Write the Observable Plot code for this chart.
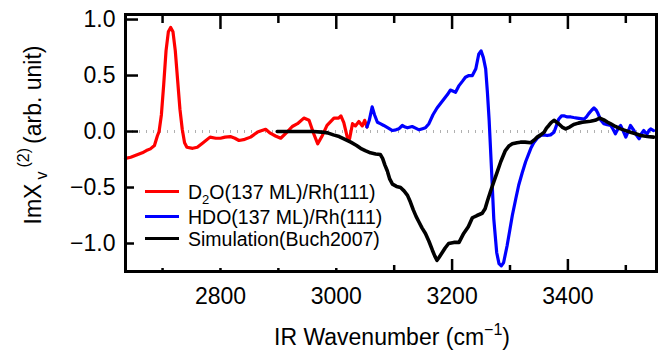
<!DOCTYPE html>
<html><head><meta charset="utf-8">
<script src="https://cdn.jsdelivr.net/npm/d3@7"></script>
<script src="https://cdn.jsdelivr.net/npm/@observablehq/plot@0.6"></script>
<style>
body{margin:0;background:#fff;}
#wrap{position:relative;width:658px;height:353px;font-family:"Liberation Sans",Arial,sans-serif;}
#overlay{position:absolute;left:0;top:0;pointer-events:none;}
</style></head><body><div id="wrap"></div>
<script>
// D2O(137 ML)/Rh(111) spectrum [wavenumber, ImChi]
const d2oSpectrum = [[2636,-0.24],[2645,-0.23],[2655,-0.21],[2665,-0.19],[2672,-0.17],[2679,-0.155],[2686,-0.125],[2691,-0.04],[2694,0.0],[2698,0.15],[2702,0.42],[2706,0.72],[2710,0.89],[2714,0.93],[2718,0.89],[2722,0.72],[2726,0.46],[2730,0.2],[2734,0.02],[2738,-0.1],[2742,-0.14],[2752,-0.15],[2760,-0.14],[2770,-0.1],[2782,-0.05],[2792,-0.06],[2800,-0.06],[2808,-0.05],[2817,-0.045],[2825,-0.06],[2832,-0.08],[2842,-0.07],[2852,-0.05],[2864,-0.005],[2878,0.02],[2886,-0.015],[2895,-0.04],[2904,-0.06],[2915,-0.005],[2924,0.045],[2933,0.07],[2944,0.12],[2953,0.1],[2961,-0.02],[2968,-0.11],[2976,-0.035],[2984,0.055],[2996,0.12],[3004,0.12],[3008,0.14],[3013,0.08],[3019,-0.05],[3023,-0.065],[3028,0.07],[3033,0.05],[3039,0.09],[3045,0.05],[3049,0.1],[3053,0.04]];
// HDO(137 ML)/Rh(111) spectrum
const hdoSpectrum = [[3053,0.04],[3057,0.1],[3062,0.22],[3066,0.15],[3071,0.083],[3076,0.07],[3082,0.054],[3090,0.03],[3097,0.009],[3103,0.015],[3108,0.024],[3114,0.054],[3119,0.04],[3123,0.033],[3131,0.045],[3137,0.03],[3143,0.015],[3149,0.025],[3154,0.033],[3160,0.07],[3167,0.15],[3174,0.21],[3180,0.25],[3186,0.29],[3192,0.33],[3197,0.37],[3206,0.35],[3212,0.41],[3218,0.45],[3223,0.485],[3229,0.5],[3235,0.5],[3241,0.56],[3246,0.69],[3250,0.72],[3254,0.66],[3258,0.56],[3261,0.35],[3264,0.1],[3268,-0.33],[3272,-0.78],[3277,-1.08],[3281,-1.18],[3285,-1.2],[3289,-1.17],[3295,-1.02],[3300,-0.87],[3304,-0.75],[3310,-0.6],[3315,-0.48],[3321,-0.37],[3327,-0.27],[3336,-0.15],[3341,-0.1],[3347,-0.06],[3353,-0.036],[3359,-0.03],[3364,-0.036],[3370,-0.03],[3376,-0.006],[3380,0.05],[3384,0.11],[3389,0.14],[3393,0.14],[3399,0.13],[3405,0.13],[3410,0.125],[3416,0.12],[3422,0.115],[3428,0.11],[3432,0.13],[3436,0.16],[3441,0.19],[3445,0.21],[3449,0.19],[3452,0.16],[3457,0.1],[3462,0.07],[3468,0.06],[3474,0.054],[3478,0.02],[3482,-0.02],[3487,0.03],[3491,0.054],[3496,0.0],[3500,-0.05],[3504,0.0],[3508,0.054],[3514,0.009],[3518,-0.03],[3523,-0.065],[3527,-0.02],[3531,0.009],[3534,-0.01],[3537,-0.02],[3540,0.01],[3543,0.024],[3548,0.009]];
// Simulation (Buch 2007)
const simSpectrum = [[2898,0.0],[2920,0.0],[2940,0.0],[2960,0.0],[2975,-0.005],[2985,-0.012],[2995,-0.03],[3005,-0.045],[3015,-0.07],[3025,-0.095],[3035,-0.125],[3042,-0.15],[3050,-0.17],[3059,-0.19],[3068,-0.2],[3076,-0.205],[3080,-0.24],[3084,-0.3],[3088,-0.35],[3092,-0.42],[3097,-0.47],[3104,-0.49],[3111,-0.5],[3117,-0.53],[3123,-0.57],[3128,-0.63],[3133,-0.7],[3138,-0.76],[3143,-0.81],[3148,-0.86],[3154,-0.91],[3160,-0.98],[3166,-1.06],[3170,-1.11],[3174,-1.15],[3178,-1.12],[3183,-1.08],[3188,-1.04],[3194,-1.0],[3203,-0.99],[3212,-0.99],[3220,-0.91],[3228,-0.85],[3235,-0.77],[3243,-0.75],[3252,-0.73],[3257,-0.69],[3261,-0.62],[3266,-0.54],[3272,-0.45],[3278,-0.36],[3284,-0.27],[3292,-0.17],[3298,-0.13],[3304,-0.11],[3312,-0.1],[3318,-0.095],[3326,-0.095],[3336,-0.1],[3342,-0.075],[3347,-0.05],[3353,-0.03],[3359,-0.006],[3363,0.03],[3367,0.054],[3371,0.08],[3376,0.1],[3380,0.085],[3384,0.07],[3390,0.04],[3396,0.024],[3403,0.04],[3410,0.063],[3418,0.075],[3425,0.083],[3432,0.088],[3439,0.092],[3447,0.1],[3455,0.12],[3462,0.104],[3468,0.085],[3474,0.069],[3482,0.045],[3491,0.024],[3500,0.008],[3508,-0.006],[3517,-0.02],[3526,-0.036],[3537,-0.045],[3548,-0.05]];

const xMajorTicks = [2800, 3000, 3200, 3400];
const xMinorTicks = [2700, 2900, 3100, 3300, 3500];
const yTicks = [-1.0, -0.5, 0.0, 0.5, 1.0];
const legendLabels = ["D2O(137 ML)/Rh(111)", "HDO(137 ML)/Rh(111)", "Simulation(Buch2007)"];
const seriesColors = ["#ff0000", "#0000ff", "#000000"];

const FONT = '"Liberation Sans", Arial, sans-serif';
const px = d => d[0], py = d => d[1];

const chart = Plot.plot({
  width: 658, height: 353,
  marginLeft: 125, marginRight: 2, marginTop: 14, marginBottom: 82,
  x: {domain: [2636, 3553]},
  y: {domain: [-1.25, 1.045]},
  style: {fontFamily: FONT, fontSize: "23px", color: "#000", background: "#fff", overflow: "visible"},
  marks: [
    Plot.ruleY([0], {stroke: "#b0b0b0", strokeWidth: 3, strokeDasharray: "1,6"}),
    Plot.line(d2oSpectrum, {x: px, y: py, stroke: seriesColors[0], strokeWidth: 3.2}),
    Plot.line(hdoSpectrum, {x: px, y: py, stroke: seriesColors[1], strokeWidth: 3.2}),
    Plot.line(simSpectrum, {x: px, y: py, stroke: seriesColors[2], strokeWidth: 3.6}),
    Plot.axisX({anchor: "top", ticks: xMajorTicks, tickSize: -14, fill: "none", label: null, strokeWidth: 2.5}),
    Plot.axisX({anchor: "top", ticks: xMinorTicks, tickSize: -8, fill: "none", label: null, strokeWidth: 2.5}),
    Plot.axisX({anchor: "bottom", ticks: xMajorTicks, tickSize: -12, fill: "none", label: null, strokeWidth: 2.5}),
    Plot.axisX({anchor: "bottom", ticks: xMinorTicks, tickSize: -6, fill: "none", label: null, strokeWidth: 2.5}),
    Plot.axisX({anchor: "bottom", ticks: xMajorTicks, tickSize: 0, tickPadding: 16, label: null, fontSize: 23, tickFormat: d => String(d)}),
    Plot.axisY({anchor: "left", ticks: yTicks, tickSize: -13, fill: "none", label: null, strokeWidth: 2.5}),
    Plot.axisY({anchor: "left", ticks: yTicks, tickSize: 0, tickPadding: 10, label: null, fontSize: 23, tickFormat: d => d.toFixed(1).replace("-", "\u2212")}),
    Plot.frame({stroke: "#000", strokeWidth: 3})
  ]
});

const wrap = document.getElementById("wrap");
wrap.appendChild(chart);

// overlay: legend and axis titles
const NS = "http://www.w3.org/2000/svg";
const ov = d3.select(wrap).append("svg").attr("id", "overlay")
  .attr("width", 658).attr("height", 353)
  .style("font-family", FONT);

// legend box
const lg = ov.append("g");
lg.append("rect").attr("x", 134).attr("y", 172).attr("width", 252).attr("height", 96).attr("fill", "#fff");
const rowsY = [191.5, 216.5, 238.5];
legendLabels.forEach((lab, i) => {
  lg.append("line").attr("x1", 145).attr("x2", 179).attr("y1", rowsY[i]).attr("y2", rowsY[i])
    .attr("stroke", seriesColors[i]).attr("stroke-width", 3.2);
  const t = lg.append("text").attr("x", 188).attr("y", rowsY[i] + 7).attr("font-size", 19.5).attr("fill", "#000");
  if (lab.startsWith("D2O")) {
    t.append("tspan").text("D");
    t.append("tspan").attr("font-size", 13).attr("dy", 5).text("2");
    t.append("tspan").attr("dy", -5).text(lab.slice(2));
  } else {
    t.text(lab);
  }
});

// x title
const xt = ov.append("text").attr("x", 392).attr("y", 345).attr("text-anchor", "middle")
  .attr("font-size", 23).attr("fill", "#000");
xt.append("tspan").text("IR Wavenumber (cm");
xt.append("tspan").attr("font-size", 16).attr("dy", -10).text("\u22121");
xt.append("tspan").attr("dy", 10).text(")");

// y title
const yt = ov.append("text").attr("transform", "translate(41,135) rotate(-90)")
  .attr("text-anchor", "middle").attr("font-size", 23).attr("fill", "#000");
yt.append("tspan").text("Im\u03a7");
yt.append("tspan").attr("font-size", 16).attr("dy", 6).attr("dx", 4).text("v");
yt.append("tspan").attr("font-size", 16).attr("dy", -18).attr("dx", 4).text("(2)");
yt.append("tspan").attr("dy", 12).attr("dx", 4).text("(arb. unit)");
</script></body></html>
